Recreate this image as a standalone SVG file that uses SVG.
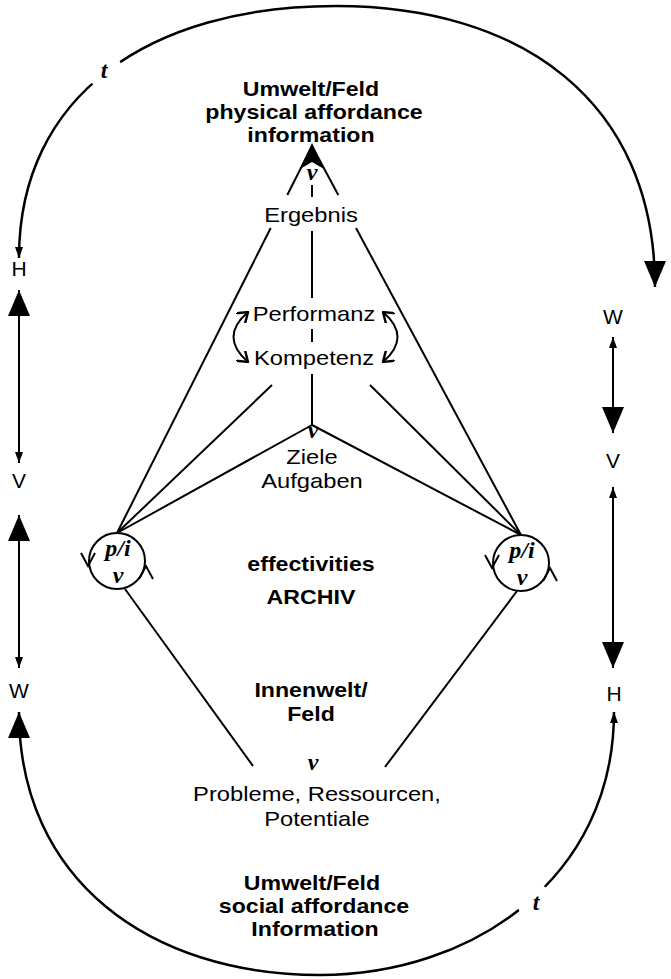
<svg xmlns="http://www.w3.org/2000/svg" width="671" height="979" viewBox="0 0 671 979">
<style>
.ln{stroke:#000;stroke-width:2;fill:none}
.arc{stroke:#000;stroke-width:2.5;fill:none}
.s{font-family:"Liberation Sans",Arial,sans-serif;font-size:21px;text-anchor:middle;fill:#000}
.b{font-family:"Liberation Sans",Arial,sans-serif;font-size:20.5px;font-weight:bold;text-anchor:middle;fill:#000}
.lab{font-family:"Liberation Sans",Arial,sans-serif;font-size:21px;text-anchor:middle;fill:#000}
.it{font-family:"Liberation Serif","Times New Roman",serif;font-style:italic;font-weight:bold;font-size:24px;text-anchor:middle;fill:#000}
</style>
<defs>
<marker id="sm" viewBox="0 0 11 8" refX="11" refY="4" markerWidth="11" markerHeight="8" markerUnits="userSpaceOnUse" orient="auto-start-reverse"><path d="M0,0 L11,4 L0,8 z" fill="#000"/></marker>
<marker id="lg" viewBox="0 0 26 22" refX="26" refY="11" markerWidth="26" markerHeight="22" markerUnits="userSpaceOnUse" orient="auto-start-reverse"><path d="M0,0 L26,11 L0,22 z" fill="#000"/></marker>
<marker id="ch" viewBox="0 0 11 14" refX="10" refY="7" markerWidth="11" markerHeight="14" markerUnits="userSpaceOnUse" orient="auto-start-reverse"><path d="M0,0 L10,7 L0,14" fill="none" stroke="#000" stroke-width="2.4"/></marker>
<mask id="gap" maskUnits="userSpaceOnUse" x="0" y="0" width="671" height="979">
<rect x="0" y="0" width="671" height="979" fill="#fff"/>
<circle cx="104" cy="70" r="18" fill="#000"/>
<circle cx="535" cy="902" r="18" fill="#000"/>
</mask>
</defs>
<rect width="671" height="979" fill="#fff"/>
<g id="connectors">
<g mask="url(#gap)">
<path class="arc" d="M19,258 C19,95 150,6 336,6 C520,6 655,100 655,287" marker-start="url(#sm)" marker-end="url(#lg)"/>
<path class="arc" d="M19,712 C19,880 150,975 320,975 C470,975 614,880 614,712" marker-start="url(#lg)" marker-end="url(#sm)"/>
</g>
<line class="ln" x1="19" y1="290" x2="19" y2="463" marker-start="url(#lg)" marker-end="url(#sm)"/>
<line class="ln" x1="19" y1="515" x2="19" y2="668" marker-start="url(#lg)" marker-end="url(#sm)"/>
<line class="ln" x1="613" y1="337" x2="613" y2="433" marker-start="url(#sm)" marker-end="url(#lg)"/>
<line class="ln" x1="613" y1="487" x2="613" y2="668" marker-start="url(#sm)" marker-end="url(#lg)"/>
<line class="ln" x1="117" y1="533" x2="270.7" y2="228"/>
<line class="ln" x1="287.3" y1="195" x2="312" y2="146"/>
<line class="ln" x1="521" y1="535" x2="356" y2="228"/>
<line class="ln" x1="338.3" y1="195" x2="312" y2="146"/>
<polygon points="312,143 300,169 312,162 324,169" fill="#000"/>
<line class="ln" x1="312" y1="150" x2="312" y2="162"/>
<line class="ln" x1="312" y1="185" x2="312" y2="197"/>
<line class="ln" x1="312" y1="231" x2="312" y2="298"/>
<line class="ln" x1="312" y1="329" x2="312" y2="342"/>
<line class="ln" x1="312" y1="374" x2="312" y2="425"/>
<line class="ln" x1="117" y1="533" x2="272" y2="385"/>
<line class="ln" x1="521" y1="535" x2="370" y2="385"/>
<line class="ln" x1="117" y1="533" x2="312" y2="425"/>
<line class="ln" x1="521" y1="535" x2="312" y2="425"/>
<line class="ln" x1="125" y1="589" x2="253" y2="766"/>
<line class="ln" x1="517" y1="591" x2="385" y2="767"/>
<path class="ln" d="M248,312 Q219,337 248,362" marker-start="url(#ch)" marker-end="url(#ch)"/>
<path class="ln" d="M383,312 Q412,337 383,362" marker-start="url(#ch)" marker-end="url(#ch)"/>
</g>
<g id="top-field">
<text class="b" transform="translate(311,96) scale(1.13,1)">Umwelt/Feld</text>
<text class="b" transform="translate(314,119) scale(1.13,1)">physical affordance</text>
<text class="b" transform="translate(311,142) scale(1.13,1)">information</text>
</g>
<g id="t-top"><text class="it" x="104" y="78">t</text></g>
<g id="t-bottom"><text class="it" x="536" y="910">t</text></g>
<g id="v-top"><text class="it" x="312" y="180">v</text></g>
<g id="ergebnis"><text class="s" transform="translate(311,222) scale(1.13,1)">Ergebnis</text></g>
<g id="performanz"><text class="s" transform="translate(314,321) scale(1.13,1)">Performanz</text></g>
<g id="kompetenz"><text class="s" transform="translate(314,365) scale(1.13,1)">Kompetenz</text></g>
<g id="ziele">
<text class="it" x="313" y="438">v</text>
<text class="s" transform="translate(312,464) scale(1.13,1)">Ziele</text>
<text class="s" transform="translate(312,488) scale(1.13,1)">Aufgaben</text>
</g>
<g id="circle-left">
<circle class="ln" cx="117" cy="561" r="28"/>
<polyline class="ln" points="81,553 88,566 95,553" stroke-width="2.4"/>
<polyline class="ln" points="139,579 146,566 153,579" stroke-width="2.4"/>
<text class="it" x="118" y="556">p/i</text>
<text class="it" x="118" y="583">v</text>
</g>
<g id="circle-right">
<circle class="ln" cx="521" cy="563" r="28"/>
<polyline class="ln" points="485,555 492,568 499,555" stroke-width="2.4"/>
<polyline class="ln" points="543,581 550,568 557,581" stroke-width="2.4"/>
<text class="it" x="522" y="558">p/i</text>
<text class="it" x="522" y="585">v</text>
</g>
<g id="archiv">
<text class="b" transform="translate(311,571) scale(1.13,1)">effectivities</text>
<text class="b" transform="translate(311,604) scale(1.13,1)">ARCHIV</text>
</g>
<g id="innenwelt">
<text class="b" transform="translate(311,697) scale(1.13,1)">Innenwelt/</text>
<text class="b" transform="translate(311,721) scale(1.13,1)">Feld</text>
</g>
<g id="probleme">
<text class="it" x="313" y="770">v</text>
<text class="s" transform="translate(317,801) scale(1.13,1)">Probleme, Ressourcen,</text>
<text class="s" transform="translate(317,826) scale(1.13,1)">Potentiale</text>
</g>
<g id="bottom-field">
<text class="b" transform="translate(312,890) scale(1.13,1)">Umwelt/Feld</text>
<text class="b" transform="translate(314,913) scale(1.13,1)">social affordance</text>
<text class="b" transform="translate(315,936) scale(1.13,1)">Information</text>
</g>
<g id="labels">
<text class="lab" x="19" y="276">H</text>
<text class="lab" x="19" y="488">V</text>
<text class="lab" x="19" y="698">W</text>
<text class="lab" x="613" y="324">W</text>
<text class="lab" x="613" y="468">V</text>
<text class="lab" x="614" y="701">H</text>
</g>
</svg>
